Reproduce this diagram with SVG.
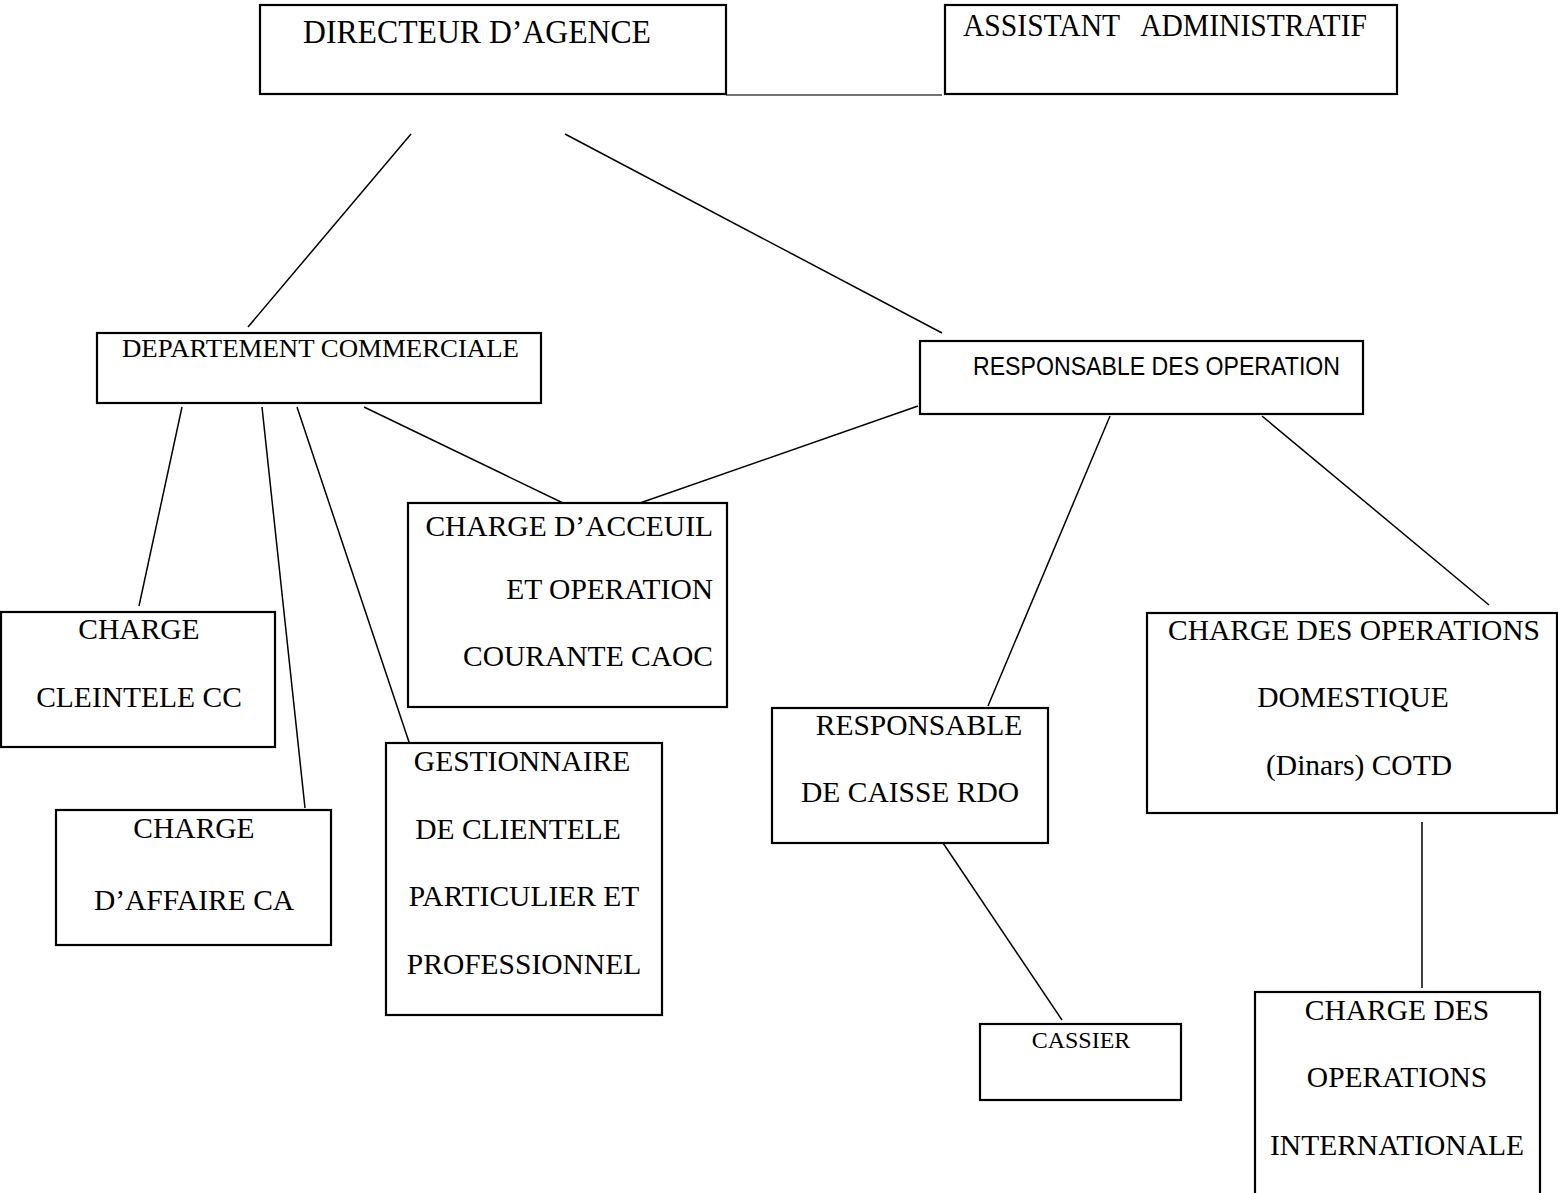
<svg xmlns="http://www.w3.org/2000/svg" width="1558" height="1193" viewBox="0 0 1558 1193">
<style>
.box{fill:#fff;stroke:#000;stroke-width:2.2}
.t{font-family:"Liberation Serif","Times New Roman",serif;font-size:29.5px;fill:#000}
.c{font-family:"Liberation Sans",Calibri,sans-serif;font-size:25px;fill:#000}
.ln{stroke:#000;stroke-width:1.5;fill:none}
</style>
<rect width="1558" height="1193" fill="#fff"/>
<g id="connectors">
<line class="ln" x1="726" y1="95" x2="942" y2="95" style="stroke:#444"/>
<line class="ln" x1="411" y1="134" x2="248" y2="327"/>
<line class="ln" x1="565" y1="134" x2="942" y2="333"/>
<line class="ln" x1="182" y1="407" x2="139" y2="606"/>
<line class="ln" x1="262" y1="407" x2="305" y2="808"/>
<line class="ln" x1="297" y1="407" x2="410" y2="745"/>
<line class="ln" x1="364" y1="407" x2="563" y2="503"/>
<line class="ln" x1="918" y1="406" x2="640" y2="503"/>
<line class="ln" x1="1110" y1="416" x2="988" y2="706"/>
<line class="ln" x1="1262" y1="416" x2="1489" y2="605"/>
<line class="ln" x1="943" y1="843" x2="1062" y2="1020"/>
<line class="ln" x1="1422" y1="822" x2="1422" y2="988"/>
</g>
<g id="directeur">
<rect class="box" x="260" y="5" width="466" height="89"/>
<text class="t" x="303" y="43" style="font-size:33px" textLength="348" lengthAdjust="spacingAndGlyphs">DIRECTEUR D’AGENCE</text>
</g>
<g id="assistant">
<rect class="box" x="945" y="5" width="452" height="89"/>
<text class="t" x="963" y="36" style="font-size:32px" xml:space="preserve" textLength="404" lengthAdjust="spacingAndGlyphs">ASSISTANT   ADMINISTRATIF</text>
</g>
<g id="dept-commerciale">
<rect class="box" x="97" y="333" width="444" height="70"/>
<text class="t" x="122" y="357" style="font-size:25px" textLength="397" lengthAdjust="spacingAndGlyphs">DEPARTEMENT COMMERCIALE</text>
</g>
<g id="resp-operation">
<rect class="box" x="920" y="341" width="443" height="73"/>
<text class="c" x="973" y="375" textLength="367" lengthAdjust="spacingAndGlyphs">RESPONSABLE DES OPERATION</text>
</g>
<g id="caoc">
<rect class="box" x="408" y="503" width="319" height="204"/>
<text class="t" x="713" y="536" text-anchor="end">CHARGE D’ACCEUIL</text>
<text class="t" x="713" y="599" text-anchor="end">ET OPERATION</text>
<text class="t" x="713" y="666" text-anchor="end">COURANTE CAOC</text>
</g>
<g id="cc">
<rect class="box" x="1" y="612" width="274" height="135"/>
<text class="t" x="139" y="639" text-anchor="middle">CHARGE</text>
<text class="t" x="139" y="707" text-anchor="middle">CLEINTELE CC</text>
</g>
<g id="ca">
<rect class="box" x="56" y="810" width="275" height="135"/>
<text class="t" x="194" y="838" text-anchor="middle">CHARGE</text>
<text class="t" x="194" y="910" text-anchor="middle">D’AFFAIRE CA</text>
</g>
<g id="gestionnaire">
<rect class="box" x="386" y="743" width="276" height="272"/>
<text class="t" x="522" y="771" text-anchor="middle">GESTIONNAIRE</text>
<text class="t" x="518" y="839" text-anchor="middle">DE CLIENTELE</text>
<text class="t" x="524" y="906" text-anchor="middle">PARTICULIER ET</text>
<text class="t" x="524" y="974" text-anchor="middle">PROFESSIONNEL</text>
</g>
<g id="rdo">
<rect class="box" x="772" y="708" width="276" height="135"/>
<text class="t" x="919" y="735" text-anchor="middle">RESPONSABLE</text>
<text class="t" x="910" y="802" text-anchor="middle">DE CAISSE RDO</text>
</g>
<g id="cotd">
<rect class="box" x="1147" y="613" width="410" height="200"/>
<text class="t" x="1354" y="640" text-anchor="middle">CHARGE DES OPERATIONS</text>
<text class="t" x="1353" y="707" text-anchor="middle">DOMESTIQUE</text>
<text class="t" x="1359" y="775" text-anchor="middle">(Dinars) COTD</text>
</g>
<g id="cassier">
<rect class="box" x="980" y="1024" width="201" height="76"/>
<text class="t" x="1081" y="1048" style="font-size:24px" text-anchor="middle">CASSIER</text>
</g>
<g id="international">
<rect class="box" x="1255" y="992" width="285" height="210"/>
<text class="t" x="1397" y="1020" text-anchor="middle">CHARGE DES</text>
<text class="t" x="1397" y="1087" text-anchor="middle">OPERATIONS</text>
<text class="t" x="1397" y="1155" text-anchor="middle">INTERNATIONALE</text>
</g>
</svg>
